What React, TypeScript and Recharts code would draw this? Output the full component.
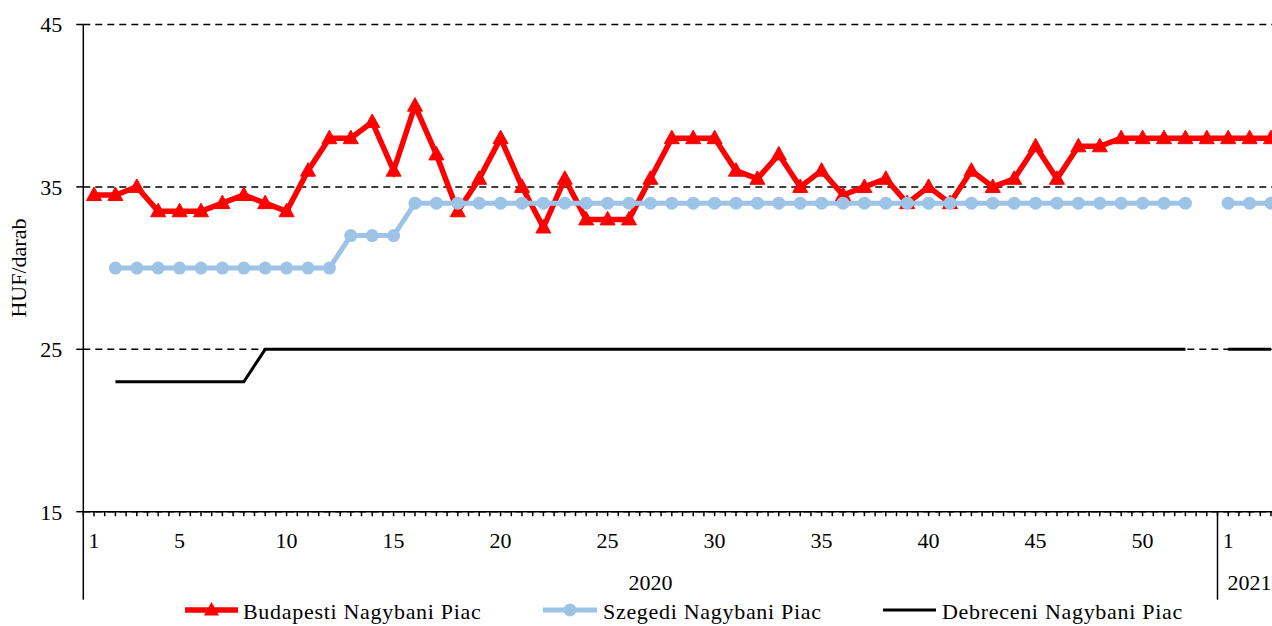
import React from 'react';
import { LineChart, Line, XAxis, YAxis, CartesianGrid, Legend, Label } from 'recharts';

const years = ['2020', '2021'];
const weeks2020 = [1, 2, 3, 4, 5, 6, 7, 8, 9, 10, 11, 12, 13, 14, 15, 16, 17, 18, 19, 20, 21, 22, 23, 24, 25, 26, 27, 28, 29, 30, 31, 32, 33, 34, 35, 36, 37, 38, 39, 40, 41, 42, 43, 44, 45, 46, 47, 48, 49, 50, 51, 52, 53];
const weeks2021 = [1, 2, 3];
const labeledWeeks2020 = [1, 5, 10, 15, 20, 25, 30, 35, 40, 45, 50];
const labeledWeeks2021 = [1];

const budapest = [
  34.5, 34.5, 35, 33.5, 33.5, 33.5, 34, 34.5, 34, 33.5,
  36, 38, 38, 39, 36, 40, 37, 33.5, 35.5, 38,
  35, 32.5, 35.5, 33, 33, 33, 35.5, 38, 38, 38,
  36, 35.5, 37, 35, 36, 34.5, 35, 35.5, 34, 35,
  34, 36, 35, 35.5, 37.5, 35.5, 37.5, 37.5, 38, 38,
  38, 38, 38,
  38, 38, 38,
];
const szeged = [
  null, 30, 30, 30, 30, 30, 30, 30, 30, 30,
  30, 30, 32, 32, 32, 34, 34, 34, 34, 34,
  34, 34, 34, 34, 34, 34, 34, 34, 34, 34,
  34, 34, 34, 34, 34, 34, 34, 34, 34, 34,
  34, 34, 34, 34, 34, 34, 34, 34, 34, 34,
  34, 34, null,
  34, 34, 34,
];
const debrecen = [
  null, 23, 23, 23, 23, 23, 23, 23, 25, 25,
  25, 25, 25, 25, 25, 25, 25, 25, 25, 25,
  25, 25, 25, 25, 25, 25, 25, 25, 25, 25,
  25, 25, 25, 25, 25, 25, 25, 25, 25, 25,
  25, 25, 25, 25, 25, 25, 25, 25, 25, 25,
  25, 25, null,
  25, 25, 25,
];
const yTicks = [15, 25, 35, 45];

const seriesNames = ['Budapesti Nagybani Piac', 'Szegedi Nagybani Piac', 'Debreceni Nagybani Piac'];
const RED = '#FF0000';
const BLUE = '#9DC3E6';
const BLACK = '#000000';
const FONT = '"Liberation Serif", "Times New Roman", serif';

const groups = [
  { year: years[0], weeks: weeks2020, labeled: labeledWeeks2020 },
  { year: years[1], weeks: weeks2021, labeled: labeledWeeks2021 },
];

type Row = { idx: number; week: number; year: string; label: string; budapest: number | null; szeged: number | null; debrecen: number | null };
const data: Row[] = [];
const groupStarts: number[] = [];
const groupCenters: { idx: number; year: string }[] = [];
groups.forEach((g) => {
  const start = data.length;
  groupStarts.push(start);
  g.weeks.forEach((w) => {
    const i = data.length;
    data.push({
      idx: i,
      week: w,
      year: g.year,
      label: g.labeled.includes(w) ? String(w) : '',
      budapest: budapest[i],
      szeged: szeged[i],
      debrecen: debrecen[i],
    });
  });
  groupCenters.push({ idx: (start + data.length - 1) / 2, year: g.year });
});
const N = data.length;
const halfTicks: number[] = [];
for (let k = 0; k <= N * 2; k++) halfTicks.push(-0.5 + k / 2);
const separatorTicks = groupStarts.map((s) => s - 0.5);

const XTick = (props: any) => {
  const { x, y, payload } = props;
  const v = payload.value as number;
  const els: React.ReactNode[] = [];
  els.push(<line key="t" x1={x} y1={y} x2={x} y2={y + 4.5} stroke="#000" strokeWidth={1.5} />);
  if (separatorTicks.some((s) => Math.abs(s - v) < 1e-6)) {
    els.push(<line key="s" x1={x} y1={y} x2={x} y2={y + 88} stroke="#000" strokeWidth={1.5} />);
  }
  if (Number.isInteger(v) && data[v] && data[v].label) {
    els.push(
      <text key="l" x={x} y={y + 36} textAnchor="middle" fontSize={22} fontFamily={FONT} fill="#000">
        {data[v].label}
      </text>
    );
  }
  groupCenters.forEach((gc) => {
    if (Math.abs(gc.idx - v) < 1e-6) {
      els.push(
        <text key={'y' + gc.year} x={x} y={y + 78} textAnchor="middle" fontSize={22} fontFamily={FONT} fill="#000">
          {gc.year}
        </text>
      );
    }
  });
  return <g>{els}</g>;
};

const Triangle = (props: any) => {
  const { cx, cy, index } = props;
  if (cx == null || cy == null) return <g key={'tn' + index} />;
  return (
    <polygon
      key={'tr' + index}
      points={`${cx},${cy - 8} ${cx - 7.5},${cy + 5.5} ${cx + 7.5},${cy + 5.5}`}
      fill={RED}
      stroke={RED}
      strokeWidth={1}
    />
  );
};

const LegendContent = () => (
  <svg width={1272} height={28} style={{ display: 'block' }}>
    <g>
      <line x1={185} y1={12} x2={238} y2={12} stroke={RED} strokeWidth={5.5} />
      <polygon points={`211.5,4 204,17.5 219,17.5`} fill={RED} />
      <text x={243} y={21} fontSize={22} fontFamily={FONT} letterSpacing={0.7} fill="#000">
        {seriesNames[0]}
      </text>
    </g>
    <g>
      <line x1={543} y1={12} x2={597} y2={12} stroke={BLUE} strokeWidth={5} />
      <circle cx={570} cy={12} r={6.5} fill={BLUE} />
      <text x={603} y={21} fontSize={22} fontFamily={FONT} letterSpacing={0.7} fill="#000">
        {seriesNames[1]}
      </text>
    </g>
    <g>
      <line x1={883} y1={12} x2={936} y2={12} stroke={BLACK} strokeWidth={3} />
      <text x={942} y={21} fontSize={22} fontFamily={FONT} letterSpacing={0.7} fill="#000">
        {seriesNames[2]}
      </text>
    </g>
  </svg>
);

export default function App() {
  return (
    <div style={{ position: 'absolute', left: 0, top: 0, width: 1272, height: 626, overflow: 'hidden', background: '#fff' }}>
      <LineChart
        width={1300}
        height={626}
        data={data}
        margin={{ top: 24.5, right: 18.3, bottom: 0, left: 0 }}
      >
        <CartesianGrid horizontal vertical={false} stroke="#000" strokeWidth={1.5} strokeDasharray="7 5" />
        <XAxis
          type="number"
          dataKey="idx"
          domain={[-0.5, N - 0.5]}
          ticks={halfTicks}
          interval={0}
          allowDataOverflow
          tick={<XTick />}
          tickLine={false}
          tickSize={0}
          tickMargin={0}
          height={114.3}
          axisLine={{ stroke: '#000', strokeWidth: 1.5 }}
        />
        <YAxis
          type="number"
          domain={[15, 45]}
          ticks={yTicks}
          interval={0}
          width={83.3}
          tickSize={7}
          tickMargin={14}
          tickLine={{ stroke: '#000', strokeWidth: 1.5 }}
          axisLine={{ stroke: '#000', strokeWidth: 1.5 }}
          tick={{ fontSize: 22, fontFamily: FONT, fill: '#000' }}
        >
          <Label
            content={(p: any) => {
              const vb = p.viewBox || { x: 0, y: 24.5, height: 487 };
              const cx = vb.x + 19;
              const cy = vb.y + vb.height / 2;
              return (
                <text
                  x={cx}
                  y={cy}
                  transform={`rotate(-90, ${cx}, ${cy})`}
                  textAnchor="middle"
                  dominantBaseline="central"
                  fontSize={22}
                  fontFamily={FONT}
                  fill="#000"
                >
                  HUF/darab
                </text>
              );
            }}
          />
        </YAxis>
        <Line
          dataKey="budapest"
          name={seriesNames[0]}
          stroke={RED}
          strokeWidth={5.5}
          dot={Triangle}
          activeDot={false}
          connectNulls={false}
          isAnimationActive={false}
        />
        <Line
          dataKey="szeged"
          name={seriesNames[1]}
          stroke={BLUE}
          strokeWidth={5}
          dot={{ r: 6.5, fill: BLUE, stroke: BLUE, strokeWidth: 0 }}
          activeDot={false}
          connectNulls={false}
          isAnimationActive={false}
        />
        <Line
          dataKey="debrecen"
          name={seriesNames[2]}
          stroke={BLACK}
          strokeWidth={3}
          dot={false}
          activeDot={false}
          connectNulls={false}
          isAnimationActive={false}
        />
        <Legend
          layout="horizontal"
          verticalAlign="middle"
          align="center"
          content={LegendContent}
          wrapperStyle={{ left: 0, top: 598, width: 1272, height: 28 }}
        />
      </LineChart>
    </div>
  );
}
